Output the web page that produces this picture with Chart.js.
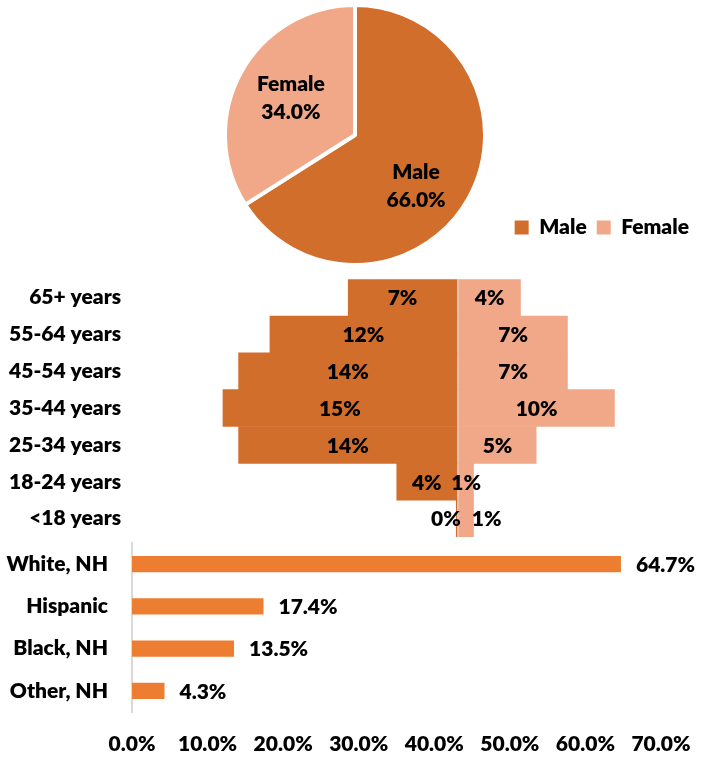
<!DOCTYPE html>
<html>
<head>
<meta charset="utf-8">
<script src="https://cdn.jsdelivr.net/npm/chart.js@4"></script>
<style>
  html, body { margin: 0; padding: 0; background: #fff; overflow: hidden; }
  #wrap { position: relative; width: 703px; height: 757px; }
  .box { position: absolute; }
</style>
</head>
<body>
<div id="wrap">
  <div class="box" style="left:220px;top:0;width:270px;height:270px"><canvas id="pie"></canvas></div>
  <div class="box" style="left:0;top:207px;width:703px;height:330px"><canvas id="pyramid"></canvas></div>
  <div class="box" style="left:0;top:537px;width:703px;height:220px"><canvas id="race"></canvas></div>
</div>
<script>
// --- data ---
const sexLabels = ['Male', 'Female'];
const sexShares = [66.0, 34.0];

const ageGroups = ['65+ years', '55-64 years', '45-54 years', '35-44 years', '25-34 years', '18-24 years', '<18 years'];
const maleByAge = [7.0, 12.0, 14.0, 15.0, 14.0, 3.9, 0.1];
const femaleByAge = [4.0, 7.0, 7.0, 10.0, 5.0, 1.0, 1.0];

const raceGroups = ['White, NH', 'Hispanic', 'Black, NH', 'Other, NH'];
const raceShares = [64.7, 17.4, 13.5, 4.3];
const raceAxisMax = 70;
const raceAxisStep = 10;

// --- styles ---
const MALE = '#D26E2C';
const FEMALE = '#F1A888';
const RACE = '#ED7D31';
const AXIS = '#D9D9D9';
const WEIGHT = '800';
const FONT = WEIGHT + ' 21px Lato';

Chart.defaults.font = { family: 'Lato', size: 21, weight: WEIGHT, lineHeight: 1.2 };
Chart.defaults.color = '#000';
Chart.defaults.animation = false;
Chart.defaults.plugins.tooltip.enabled = false;

// category axes: fixed width, no extra half-label padding above/below
const fixAxis = width => s => {
    s.width = width;
    s.paddingTop = 0;
    s.paddingBottom = 0;
};

// pie labels: name + percentage inside each slice
const pieNudge = [[-5, 15], [2, 0]];
const pieLabels = {
    id: 'pieLabels',
    afterDatasetsDraw(chart) {
        const ctx = chart.ctx;
        const meta = chart.getDatasetMeta(0);
        ctx.save();
        ctx.font = FONT;
        ctx.fillStyle = '#000';
        ctx.textAlign = 'center';
        ctx.textBaseline = 'middle';
        meta.data.forEach((arc, i) => {
            const { x, y, startAngle, endAngle, outerRadius } = arc.getProps(['x', 'y', 'startAngle', 'endAngle', 'outerRadius'], true);
            const mid = (startAngle + endAngle) / 2;
            const r = outerRadius * 0.58;
            const cx = x + Math.cos(mid) * r + pieNudge[i][0];
            const cy = y + Math.sin(mid) * r + pieNudge[i][1];
            ctx.fillText(sexLabels[i], cx, cy - 14);
            ctx.fillText(sexShares[i].toFixed(1) + '%', cx, cy + 14);
        });
        ctx.restore();
    }
};

new Chart(document.getElementById('pie'), {
    type: 'pie',
    data: {
        labels: sexLabels,
        datasets: [{
            data: sexShares,
            backgroundColor: [MALE, FEMALE],
            borderColor: '#fff',
            borderWidth: 4
        }]
    },
    options: {
        responsive: true,
        maintainAspectRatio: false,
        layout: { padding: 3 },
        plugins: { legend: { display: false } }
    },
    plugins: [pieLabels]
});

// pyramid labels: centered in each bar, pushed apart when they collide
const pyramidLabels = {
    id: 'pyramidLabels',
    afterDatasetsDraw(chart) {
        const ctx = chart.ctx;
        const males = chart.getDatasetMeta(0).data;
        const females = chart.getDatasetMeta(1).data;
        const zeroX = chart.scales.x.getPixelForValue(0);
        ctx.save();
        ctx.font = FONT;
        ctx.fillStyle = '#000';
        ctx.textBaseline = 'middle';
        ctx.textAlign = 'left';
        males.forEach((m, i) => {
            const f = females[i];
            const mText = Math.round(maleByAge[i]) + '%';
            const fText = Math.round(femaleByAge[i]) + '%';
            const mw = ctx.measureText(mText).width;
            const fw = ctx.measureText(fText).width;
            let mLeft = (m.x + m.base) / 2 - mw / 2;
            let fLeft = (f.x + f.base) / 2 - fw / 2;
            if (mLeft + mw + 6 > fLeft) {
                mLeft = zeroX + 3 - mw;
                fLeft = zeroX + 14;
            }
            ctx.fillText(mText, mLeft, m.y + 1);
            ctx.fillText(fText, fLeft, f.y + 1);
        });
        ctx.restore();
    }
};

new Chart(document.getElementById('pyramid'), {
    type: 'bar',
    data: {
        labels: ageGroups,
        datasets: [
            { label: 'Male', data: maleByAge.map(v => -v), backgroundColor: MALE, barPercentage: 1, categoryPercentage: 1 },
            { label: 'Female', data: femaleByAge, backgroundColor: FEMALE, barPercentage: 1, categoryPercentage: 1 }
        ]
    },
    options: {
        indexAxis: 'y',
        responsive: true,
        maintainAspectRatio: false,
        layout: { padding: { right: 4 } },
        scales: {
            x: {
                stacked: true,
                min: -21,
                max: 15.4,
                z: 1,
                ticks: { display: false, stepSize: 1, padding: 0 },
                border: { display: false },
                grid: {
                    drawTicks: false,
                    lineWidth: 2,
                    color: c => (c.tick && c.tick.value === 0 ? AXIS : 'rgba(0,0,0,0)')
                }
            },
            y: {
                stacked: true,
                grid: { display: false, drawTicks: false },
                border: { display: false },
                ticks: { padding: 8 },
                afterFit: fixAxis(129)
            }
        },
        plugins: {
            legend: {
                position: 'top',
                align: 'end',
                labels: { boxWidth: 14, boxHeight: 14, padding: 10, color: '#000', font: { family: 'Lato', size: 21, weight: WEIGHT } }
            },
            // empty spacer between the legend and the bars
            title: { display: true, text: '', weight: 500, font: { size: 1 }, padding: { top: 30, bottom: 0 } }
        }
    },
    plugins: [pyramidLabels]
});

// race bars with value labels after the bar end
const raceLabels = {
    id: 'raceLabels',
    afterDatasetsDraw(chart) {
        const ctx = chart.ctx;
        ctx.save();
        ctx.font = FONT;
        ctx.fillStyle = '#000';
        ctx.textAlign = 'left';
        ctx.textBaseline = 'middle';
        chart.getDatasetMeta(0).data.forEach((bar, i) => {
            ctx.fillText(raceShares[i].toFixed(1) + '%', bar.x + 15, bar.y + 1);
        });
        ctx.restore();
    }
};

new Chart(document.getElementById('race'), {
    type: 'bar',
    data: {
        labels: raceGroups,
        datasets: [{
            data: raceShares,
            backgroundColor: RACE,
            barPercentage: 0.38,
            categoryPercentage: 1
        }]
    },
    options: {
        indexAxis: 'y',
        responsive: true,
        maintainAspectRatio: false,
        layout: { padding: { top: 6, right: 42 } },
        scales: {
            x: {
                min: 0,
                max: raceAxisMax,
                grid: { display: false, drawTicks: false },
                border: { display: false },
                ticks: { stepSize: raceAxisStep, padding: 20, callback: v => v.toFixed(1) + '%' },
                afterFit: s => {
                    s.height = 45;
                    s.paddingLeft = 0;
                    s.paddingRight = 0;
                }
            },
            y: {
                grid: { display: false, drawTicks: false },
                border: { display: true, color: AXIS, width: 2 },
                ticks: { padding: 24 },
                afterFit: fixAxis(132)
            }
        },
        plugins: { legend: { display: false } }
    },
    plugins: [raceLabels]
});
</script>
</body>
</html>
